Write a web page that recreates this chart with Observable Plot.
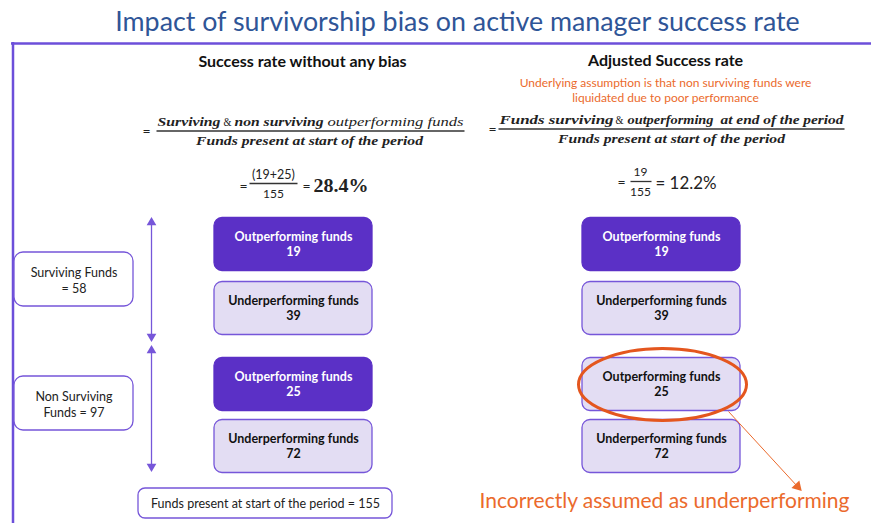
<!DOCTYPE html>
<html>
<head>
<meta charset="utf-8">
<script src="https://cdn.jsdelivr.net/npm/d3@7"></script>
<script src="https://cdn.jsdelivr.net/npm/@observablehq/plot@0.6"></script>
<style>
  html, body { margin: 0; padding: 0; background: #fff; }
  #title { height: 40px; line-height: 43px; text-align: center; box-sizing: border-box; padding-left: 44px; font-family: Lato, "Open Sans", sans-serif; font-size: 26.8px; color: #2F5597; white-space: nowrap; }
  #chart svg { display: block; }
</style>
</head>
<body>
<div id="title"></div>
<div id="chart"></div>
<script>
// ---------- data ----------
const title = "Impact of survivorship bias on active manager success rate";
const panelTitles = ["Success rate without any bias", "Adjusted Success rate"];
const assumptionNote = ["Underlying assumption is that non surviving funds were", "liquidated due to poor performance"];
const groups = ["Surviving Funds", "Non Surviving Funds"];
const groupLabels = ["Surviving Funds\n= 58", "Non Surviving\nFunds = 97"];
const groupTotals = [58, 97];
const categories = ["Outperforming funds", "Underperforming funds"];
const survivingValues = [19, 39];
const nonSurvivingValues = [25, 72];
const totalFunds = 155;
const successRates = [28.4, 12.2];
const callout = "Incorrectly assumed as underperforming";

// ---------- style ----------
const C = {
  dark: "#5B30C6", light: "#E3DDF3", stroke: "#7656D9", frame: "#6C4FDA",
  orange: "#EB6A2C", ellipse: "#E4561E", ink: "#222", title: "#2F5597"
};
const SANS = "Lato, 'Open Sans', sans-serif";
const SERIF = "'Liberation Serif', 'DejaVu Serif', serif";

// ---------- layout (positions only) ----------
const colX = [293, 661];
const rowY = [[244, 308], [384, 446]];
const boxW = 158, boxH = 53;
const groupBoxY = [279, 403];
const arrowSpan = [[218, 340], [346, 470]];

const boxes = [];
[0, 1].forEach(p => {
  [survivingValues, nonSurvivingValues].forEach((vals, g) => {
    vals.forEach((v, c) => {
      const darkFill = c === 0 && (p === 0 || g === 0);
      boxes.push({panel: p, group: groups[g], category: categories[c], value: v,
        cx: colX[p], cy: rowY[g][c], dark: darkFill});
    });
  });
});

const groupBoxes = groupLabels.map((label, g) => ({label, total: groupTotals[g], cy: groupBoxY[g]}));
const arrows = arrowSpan.map(([top, bottom]) => ({top, bottom}));

const rate0 = `${successRates[0].toFixed(1)}%`;
const rate1 = `${successRates[1].toFixed(1)}%`;

// formula pieces: text, anchor position, weight/style, fitted width
const segs = [
  {t: "Surviving", x: 157, y: 121, w: "bold", s: "italic", tw: 63},
  {t: "&", x: 223, y: 121, w: "normal", s: "normal", tw: 8},
  {t: "non surviving", x: 234, y: 121, w: "bold", s: "italic", tw: 89},
  {t: "outperforming funds", x: 327, y: 121, w: "normal", s: "italic", tw: 136},
  {t: "Funds surviving", x: 499, y: 119, w: "bold", s: "italic", tw: 114},
  {t: "&", x: 615, y: 119, w: "normal", s: "normal", tw: 8},
  {t: "outperforming", x: 627, y: 119, w: "bold", s: "italic", tw: 86},
  {t: "at end of the period", x: 720, y: 119, w: "bold", s: "italic", tw: 123}
];
const centered = [
  {t: "Funds present at start of the period", x: 309, y: 140, w: "bold", s: "italic", f: SERIF, size: 13, tw: 227},
  {t: "Funds present at start of the period", x: 671, y: 138, w: "bold", s: "italic", f: SERIF, size: 13, tw: 227},
  {t: "=", x: 146, y: 131, w: "normal", s: "normal", f: SANS, size: 14},
  {t: "=", x: 492, y: 129, w: "normal", s: "normal", f: SANS, size: 14},
  {t: `(${survivingValues[0]}+${nonSurvivingValues[0]})`, x: 273, y: 174, w: "normal", s: "normal", f: SANS, size: 12.5},
  {t: `${totalFunds}`, x: 273, y: 194, w: "normal", s: "normal", f: SANS, size: 12},
  {t: "=", x: 243, y: 186, w: "normal", s: "normal", f: SANS, size: 15},
  {t: `${survivingValues[0]}`, x: 640, y: 172, w: "normal", s: "normal", f: SANS, size: 12},
  {t: `${totalFunds}`, x: 640, y: 192, w: "normal", s: "normal", f: SANS, size: 12},
  {t: "=", x: 621, y: 182, w: "normal", s: "normal", f: SANS, size: 15}
];
const startText = [
  {t: "=", x: 302, y: 186, w: "normal", size: 15, f: SANS},
  {t: rate0, x: 313, y: 186, w: "bold", size: 18, f: SERIF, tw: 55},
  {t: `= ${rate1}`, x: 655, y: 183, w: "normal", size: 18, f: SANS, tw: 61}
];
const fracLines = [
  {x1: 156, x2: 464, y: 130.5}, {x1: 498, x2: 844, y: 128.5},
  {x1: 249, x2: 297, y: 183}, {x1: 630, x2: 651, y: 181}
];

function ellipseSymbol(rx, ry) {
  return {draw(ctx) {
    const kx = rx * 0.5523, ky = ry * 0.5523;
    ctx.moveTo(rx, 0);
    ctx.bezierCurveTo(rx, ky, kx, ry, 0, ry);
    ctx.bezierCurveTo(-kx, ry, -rx, ky, -rx, 0);
    ctx.bezierCurveTo(-rx, -ky, -kx, -ry, 0, -ry);
    ctx.bezierCurveTo(kx, -ry, rx, -ky, rx, 0);
    ctx.closePath();
  }};
}

// highlighted box: non-surviving outperformers in the adjusted panel
const highlighted = boxes.filter(d => d.panel === 1 && d.group === groups[1] && d.category === categories[0]);
const pointer = [{x1: 728, y1: 411, x2: 797, y2: 486}];

document.getElementById("title").textContent = title;

const plot = Plot.plot({
  width: 871, height: 483,
  margin: 0,
  x: {domain: [0, 871], range: [0, 871], axis: null},
  y: {domain: [40, 523], range: [0, 483], axis: null},
  style: {background: "#fff"},
  marks: [
    // frame
    Plot.ruleY([43], {x1: 11, x2: 871, stroke: C.frame, strokeWidth: 2.5}),
    Plot.ruleX([12.5], {y1: 42, y2: 523, stroke: C.frame, strokeWidth: 2.5}),
    // panel headings
    Plot.text(panelTitles, {x: (d, i) => i === 0 ? 302 : 665, y: (d, i) => i === 0 ? 61 : 60, text: d => d,
      fontWeight: "bold", fontSize: 16, fontFamily: SANS, fill: "#111"}),
    Plot.text([assumptionNote.join("\n")], {x: 665, y: 89, text: d => d, fontSize: 12, lineHeight: 1.3,
      fontFamily: SANS, fill: C.orange}),
    // formulas
    Plot.text(segs, {x: "x", y: "y", text: "t", textAnchor: "start", fontFamily: SERIF, fontSize: 13,
      fontWeight: "bold", fontStyle: "italic", fill: C.ink}),
    Plot.text(centered, {x: "x", y: "y", text: "t", fontSize: 13, fontWeight: "bold", fontStyle: "italic",
      fontFamily: SERIF, fill: C.ink}),
    Plot.text(startText, {x: "x", y: "y", text: "t", textAnchor: "start", fontSize: 18, fontFamily: SANS, fill: C.ink}),
    Plot.link(fracLines, {x1: "x1", x2: "x2", y1: "y", y2: "y", stroke: "#333", strokeWidth: 1.3}),
    // group label boxes
    Plot.rect(groupBoxes, {x1: 14, x2: 133, y1: d => d.cy - 27, y2: d => d.cy + 27, rx: 9,
      fill: "#fff", stroke: C.stroke, strokeWidth: 1.3}),
    Plot.text(groupBoxes, {x: 73.5, y: "cy", text: "label", fontSize: 12.5, lineHeight: 1.3, fontFamily: SANS, fill: "#222"}),
    // arrows
    Plot.link(arrows, {x1: 151, x2: 151, y1: d => d.top + 4, y2: d => d.bottom - 4, stroke: C.stroke, strokeWidth: 1.3}),
    Plot.dot(arrows, {x: 151, y: d => d.top + 4, symbol: "triangle", r: 3.6, fill: C.stroke, stroke: "none"}),
    Plot.dot(arrows, {x: 151, y: d => d.bottom - 4, symbol: "triangle", r: 3.6, rotate: 180, fill: C.stroke, stroke: "none"}),
    // fund boxes
    Plot.rect(boxes, {x1: d => d.cx - boxW / 2, x2: d => d.cx + boxW / 2, y1: d => d.cy - boxH / 2, y2: d => d.cy + boxH / 2,
      rx: 8, fill: d => d.dark ? C.dark : C.light, stroke: d => d.dark ? C.dark : C.stroke, strokeWidth: 1.3}),
    Plot.text(boxes, {x: "cx", y: d => d.cy - 1, text: d => `${d.category}\n${d.value}`, fontWeight: "bold", fontSize: 12.5,
      lineHeight: 1.22, fontFamily: SANS, fill: d => d.dark ? "#fff" : "#111"}),
    // total box
    Plot.rect([totalFunds], {x1: 138, x2: 392, y1: 488, y2: 518, rx: 7, fill: "#fff", stroke: C.stroke, strokeWidth: 1.3}),
    Plot.text([totalFunds], {x: 265, y: 503.5, text: d => `Funds present at start of the period = ${d}`, fontSize: 12.5,
      fontFamily: SANS, fill: "#222"}),
    // highlight ellipse and callout
    Plot.dot(highlighted, {x: d => d.cx + 1, y: d => d.cy, symbol: ellipseSymbol(84, 36), fill: "none", stroke: C.ellipse, strokeWidth: 3}),
    Plot.link(pointer, {x1: "x1", y1: "y1", x2: "x2", y2: "y2", stroke: C.orange, strokeWidth: 1}),
    Plot.dot(pointer, {x: "x2", y: "y2", symbol: "triangle", r: 4, rotate: 137, fill: C.orange, stroke: "none"}),
    Plot.text([callout], {x: 664, y: 501, text: d => d, fontSize: 21, fontFamily: SANS, fill: C.orange})
  ]
});
document.getElementById("chart").appendChild(plot);

// per-piece font weights/styles and fitted widths for the formula texts
function fit(el, tw) {
  if (tw) { el.setAttribute("textLength", tw); el.setAttribute("lengthAdjust", "spacingAndGlyphs"); }
}
d3.select(plot).selectAll("text").each(function () {
  const t = this.textContent;
  const seg = segs.find(s => s.t === t);
  if (seg) { this.setAttribute("font-weight", seg.w); this.setAttribute("font-style", seg.s); fit(this, seg.tw); }
  const st = startText.find(s => s.t === t);
  if (st) { this.setAttribute("font-weight", st.w); this.setAttribute("font-size", st.size); this.setAttribute("font-family", st.f); fit(this, st.tw); }
  const ce = centered.find(s => s.t === t);
  if (ce) { this.setAttribute("font-weight", ce.w); this.setAttribute("font-style", ce.s); this.setAttribute("font-family", ce.f); this.setAttribute("font-size", ce.size); fit(this, ce.tw); }
});
</script>
</body>
</html>
